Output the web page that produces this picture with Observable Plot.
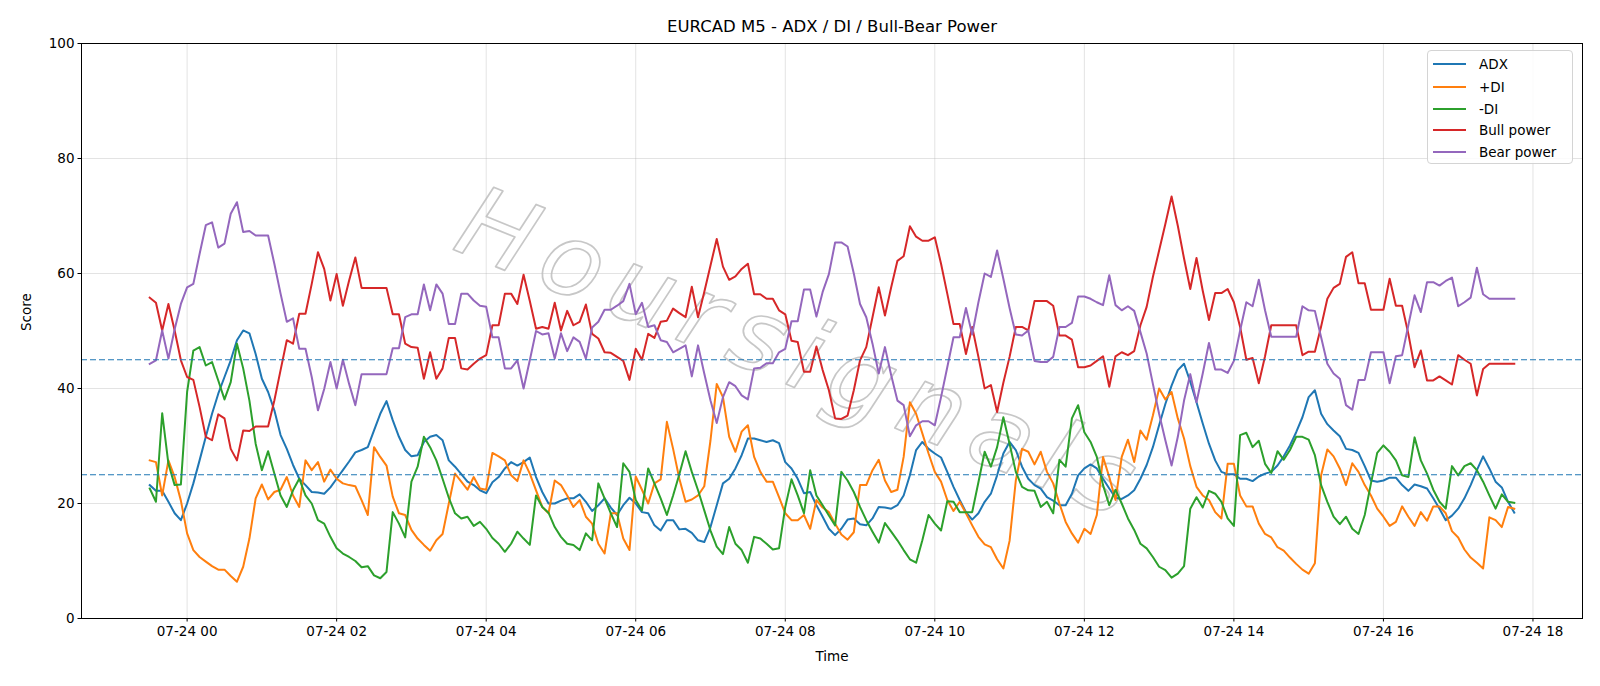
<!DOCTYPE html>
<html>
<head>
<meta charset="utf-8">
<script src="https://cdn.jsdelivr.net/npm/d3@7"></script>
<script src="https://cdn.jsdelivr.net/npm/@observablehq/plot@0.6"></script>
<style>
  html, body { margin: 0; padding: 0; background: #fff; }
  #wrap { position: relative; width: 1600px; height: 686px; font-family: "DejaVu Sans", sans-serif; }
  #legend { position: absolute; left: 1427px; top: 50px; width: 146px; height: 114px; box-sizing: border-box;
    border: 1px solid #d4d4d4; border-radius: 4px; background: rgba(255,255,255,0.85); }
  .lg { position: absolute; left: 0; height: 20px; display: flex; align-items: center; font-size: 13.5px; color: #000; }
  .lg span.sw { display: inline-block; width: 33px; height: 2px; margin-left: 5px; margin-right: 13px; }
</style>
</head>
<body>
<div id="wrap"><div id="chart"></div><div id="legend"></div></div>
<script>
// ---- data (5-minute bars starting 07-23 23:30) ----
const seriesNames = ["ADX", "+DI", "-DI", "Bull power", "Bear power"];
const seriesColors = ["#1f77b4", "#ff7f0e", "#2ca02c", "#d62728", "#9467bd"];

const adx = [23.2,22.2,22.2,20.3,18.3,17.1,20.0,23.5,27.5,31.6,35.6,39.1,42.0,44.9,48.4,50.1,49.6,46.0,41.7,39.4,36.2,31.9,29.5,26.7,24.3,23.2,22.0,21.9,
21.7,22.8,24.3,25.8,27.3,28.9,29.3,29.8,32.7,35.6,37.8,34.5,31.6,29.3,28.2,28.4,30.7,31.6,31.9,31.0,27.5,26.4,25.1,23.8,23.2,22.3,21.8,23.7,
24.6,26.1,27.2,26.6,27.2,28.0,24.6,22.0,20.0,20.0,20.5,20.9,20.9,21.6,20.3,18.7,19.7,20.9,19.3,18.0,19.7,21.0,20.0,18.5,18.3,16.2,15.3,17.1,
17.1,15.5,15.6,14.9,13.6,13.3,15.9,19.7,23.5,24.3,26.1,28.4,31.3,31.3,31.0,30.7,31.0,30.5,27.2,26.1,24.3,21.8,22.0,19.7,17.7,15.6,14.5,15.6,
17.2,17.4,16.4,16.2,17.4,19.4,19.3,19.1,19.7,21.4,24.9,29.3,30.7,29.5,28.7,28.0,25.5,22.9,20.6,18.5,17.2,18.3,20.3,21.7,24.9,28.7,30.7,29.3,
26.4,24.3,23.2,22.6,21.1,20.5,19.7,19.7,21.7,24.9,26.1,26.8,26.1,24.3,22.6,21.0,20.8,21.4,22.3,24.3,26.7,29.8,33.6,37.3,40.5,43.2,44.3,41.2,
37.6,33.9,30.4,27.5,25.5,25.1,25.1,24.3,24.3,23.9,24.7,25.2,25.5,26.6,28.2,30.1,32.4,35.0,38.5,39.7,35.6,33.8,32.7,31.7,29.5,29.3,28.8,26.5,
24.0,23.8,24.0,24.5,24.5,23.2,22.2,23.3,23.0,22.6,20.9,19.1,17.1,17.9,19.1,20.9,23.2,25.8,28.2,26.1,23.8,22.8,20.3,18.4];

const plusDI = [27.5,27.2,21.4,27.5,24.6,20.5,14.8,11.9,10.7,9.9,9.1,8.5,8.5,7.4,6.4,9.0,13.9,20.9,23.3,20.7,22.0,22.4,24.6,21.4,19.4,27.5,25.8,27.2,
23.8,25.9,24.3,23.5,23.2,23.0,20.6,18.0,29.8,28.1,26.6,21.2,18.3,18.0,15.4,13.9,12.8,11.8,13.6,14.7,20.0,25.2,23.8,22.4,24.6,22.6,22.4,28.8,
28.2,27.5,24.9,23.9,27.5,25.2,22.3,19.4,18.3,24.0,23.2,21.4,19.4,20.6,17.7,16.5,13.0,11.3,18.3,18.3,13.9,11.9,24.7,22.4,20.0,23.5,24.2,34.2,
29.5,24.3,20.3,20.7,21.4,23.0,31.0,40.8,38.5,31.6,29.0,32.5,33.6,28.1,25.5,23.8,23.8,21.1,18.3,17.1,17.1,18.0,15.6,20.6,19.3,18.5,16.5,14.6,
13.7,15.0,23.2,23.2,25.8,27.6,24.0,22.0,22.4,28.1,37.6,35.6,32.2,28.7,25.5,23.8,20.6,18.7,20.3,18.3,16.2,14.2,12.9,12.4,10.3,8.7,13.5,24.0,
29.5,29.0,26.8,29.0,25.5,23.5,20.0,16.8,14.8,13.2,15.6,14.7,18.0,28.1,24.6,20.6,28.1,31.1,27.2,32.7,31.1,35.3,40.0,38.1,39.4,34.8,31.3,26.5,
22.9,21.4,20.6,18.5,17.4,26.9,26.9,21.4,19.5,19.5,16.5,14.7,14.1,12.4,11.8,10.6,9.5,8.5,7.8,9.6,24.9,29.4,28.2,26.1,23.2,27.0,25.5,23.2,
21.4,19.1,17.7,16.1,16.8,19.5,17.7,16.1,18.5,17.0,19.5,19.5,18.3,15.2,14.1,12.0,10.6,9.7,8.7,17.6,17.1,15.9,19.4,19.1];

const minusDI = [22.6,20.3,35.7,26.9,23.2,23.3,39.4,46.6,47.2,44.0,44.6,41.4,38.1,41.1,47.8,43.5,37.9,30.4,25.8,29.1,25.2,21.4,19.4,22.3,24.3,21.4,20.0,17.1,
16.5,14.2,12.2,11.3,10.7,10.0,8.9,9.1,7.5,7.0,8.1,18.5,16.5,14.1,23.8,26.4,31.6,29.8,27.5,24.3,21.0,18.3,17.4,17.7,16.1,16.8,15.6,14.0,
13.0,11.6,13.0,15.1,13.9,12.8,21.4,19.4,18.4,15.9,14.2,13.0,12.8,11.9,14.8,13.6,23.5,20.9,18.3,15.9,27.0,25.5,20.6,18.8,26.1,23.5,20.9,18.0,
21.4,25.1,29.1,25.5,22.3,18.8,15.3,12.5,11.2,15.9,13.0,11.9,9.7,14.2,13.9,13.0,12.0,12.2,19.4,24.2,21.4,18.3,25.8,21.4,19.7,17.9,16.2,25.5,
24.0,22.0,19.4,17.1,15.1,13.2,16.6,15.1,13.6,11.9,10.3,9.7,13.6,18.0,16.5,15.3,20.4,20.3,18.5,18.5,18.5,23.7,29.0,26.4,29.8,35.0,30.4,25.5,
22.9,22.3,22.2,19.4,20.3,18.3,27.6,26.4,34.8,37.1,32.4,30.7,28.1,23.2,19.7,22.4,20.0,17.4,15.4,13.0,12.2,10.7,9.0,8.4,7.1,7.8,9.1,19.1,
21.1,19.3,22.2,21.7,20.3,17.4,16.1,31.9,32.3,29.8,30.9,26.9,25.3,29.1,27.6,29.3,31.6,31.6,31.1,28.4,23.2,20.3,17.7,16.4,17.7,15.6,14.7,18.0,
23.5,28.8,30.1,29.0,27.5,24.9,24.6,31.5,27.5,25.2,22.4,20.3,19.1,26.5,24.9,26.5,27.0,25.8,23.8,21.4,19.1,21.6,20.3,20.1];

const bullPower = [55.8,54.9,50.1,54.7,50.1,44.9,42.0,41.5,36.8,31.6,31.0,35.5,34.8,29.5,27.5,32.7,32.6,33.4,33.4,33.4,37.9,43.2,48.4,47.8,53.0,53.0,58.2,63.7,
60.8,55.3,59.9,54.4,58.8,62.8,57.5,57.5,57.5,57.5,57.5,52.9,52.9,47.8,47.2,47.1,41.7,46.3,41.7,43.5,48.8,48.8,43.5,43.3,44.3,45.2,45.8,51.0,
51.0,56.5,56.5,54.7,59.8,55.2,50.4,50.7,50.4,54.9,50.1,53.5,51.0,51.6,54.6,49.5,48.7,46.3,46.2,45.5,44.8,41.5,46.9,45.0,49.5,48.8,51.6,51.8,
53.9,53.1,52.4,57.7,52.4,56.8,61.4,66.0,61.2,58.9,59.5,60.8,61.7,56.4,56.4,55.6,55.6,53.6,52.9,48.3,48.1,42.9,42.9,47.3,43.2,39.7,34.8,34.7,
35.3,39.7,44.9,47.2,52.4,57.6,52.7,57.6,62.2,63.0,68.2,66.4,65.7,65.7,66.3,61.7,56.5,51.2,51.2,46.0,50.7,45.5,40.0,40.6,35.9,41.0,45.5,50.7,
50.7,50.1,55.2,55.2,55.2,54.4,49.2,49.2,48.5,43.7,43.7,44.0,44.8,45.6,40.3,45.6,46.3,45.8,46.5,51.0,54.2,59.4,64.0,68.6,73.4,68.3,62.6,57.3,
62.7,57.0,51.9,56.6,56.6,57.3,55.0,50.7,45.0,45.3,40.9,45.6,51.0,51.0,51.0,51.0,51.0,45.8,46.4,46.4,50.8,55.6,57.5,58.2,62.9,63.7,58.3,58.3,
53.7,53.7,53.7,59.1,54.4,54.4,49.5,43.7,46.6,41.4,41.4,42.1,41.4,40.7,45.8,45.0,44.3,38.8,43.4,44.3,44.3,44.3,44.3,44.3];

const bearPower = [44.3,44.9,50.1,45.2,50.3,54.7,57.6,58.2,63.4,68.4,68.9,64.5,65.2,70.4,72.4,67.2,67.4,66.6,66.6,66.6,61.7,56.5,51.6,52.2,46.9,46.9,42.0,36.2,
39.9,44.6,40.0,45.0,40.8,37.1,42.5,42.5,42.5,42.5,42.5,47.0,47.0,52.4,52.9,52.9,58.1,53.6,58.1,56.5,51.2,51.2,56.5,56.5,55.3,54.4,54.2,48.9,
48.9,43.5,43.5,44.9,40.0,44.9,50.0,49.4,49.6,45.2,49.6,46.5,48.9,48.1,45.2,50.6,51.6,53.7,53.7,54.4,55.2,58.2,52.9,54.9,50.7,51.0,48.4,48.1,
46.3,46.9,47.5,42.1,47.5,42.6,37.9,34.0,38.5,41.1,40.4,38.8,38.1,43.5,43.6,44.4,44.4,46.3,46.9,51.7,51.7,57.2,57.2,52.5,56.8,59.9,65.4,65.4,
64.7,60.0,54.7,52.4,47.8,42.6,47.2,42.3,37.9,37.1,31.7,33.6,34.3,34.3,33.6,38.5,43.7,48.9,48.9,54.0,49.4,55.0,60.0,59.4,64.0,59.1,54.0,49.4,
49.2,50.1,44.8,44.6,44.6,45.5,50.7,50.7,51.4,56.0,56.0,55.6,55.0,54.5,59.7,54.5,53.6,54.3,53.5,49.8,46.1,40.8,35.6,31.0,26.6,31.6,37.9,42.5,
37.6,42.6,47.9,43.3,43.3,42.7,44.8,50.1,55.0,54.3,58.9,53.6,49.0,49.0,49.0,49.0,49.0,54.3,53.6,53.5,48.9,44.3,42.6,41.7,37.1,36.3,41.5,41.5,
46.3,46.3,46.3,40.9,45.6,45.8,51.0,56.2,53.3,58.5,58.5,57.9,58.7,59.3,54.3,55.0,55.8,61.0,56.4,55.6,55.6,55.6,55.6,55.6];

const thresholds = [45, 25];
const yTicks = [0, 20, 40, 60, 80, 100];
const xTickHours = [0, 2, 4, 6, 8, 10, 12, 14, 16, 18];
const titleText = "EURCAD M5 - ADX / DI / Bull-Bear Power";
const xLabel = "Time";
const yLabel = "Score";
const watermarkText = "Hoursignals";

// ---- build table ----
const startMs = Date.UTC(2024, 6, 23, 23, 30);
const stepMs = 5 * 60 * 1000;
const allSeries = [adx, plusDI, minusDI, bullPower, bearPower];
const rows = [];
allSeries.forEach((vals, k) => vals.forEach((v, i) => rows.push({series: seriesNames[k], t: new Date(startMs + i * stepMs), v})));
const n = adx.length;
const endMs = startMs + (n - 1) * stepMs;
const pad = 0.05 * (endMs - startMs);
const xTicks = xTickHours.map(h => new Date(Date.UTC(2024, 6, 24, h)));

const chart = Plot.plot({
  width: 1600,
  height: 686,
  marginLeft: 81,
  marginRight: 18,
  marginTop: 43,
  marginBottom: 68,
  style: {fontFamily: "DejaVu Sans, sans-serif", fontSize: "13.5px", color: "#000", background: "#fff", overflow: "visible"},
  x: {type: "utc", domain: [new Date(startMs - pad), new Date(endMs + pad)]},
  y: {domain: [0, 100]},
  color: {domain: seriesNames, range: seriesColors},
  marks: [
    Plot.gridX(xTicks, {stroke: "#b0b0b0", strokeOpacity: 0.35, strokeWidth: 1}),
    Plot.gridY(yTicks, {stroke: "#b0b0b0", strokeOpacity: 0.35, strokeWidth: 1}),
    Plot.text([watermarkText], {frameAnchor: "middle", dx: -30, dy: 25, rotate: 22, fontSize: 100, fontStyle: "italic",
      fontFamily: "DejaVu Sans", fill: "none", stroke: "#bdbdbd", strokeWidth: 1.7, strokeOpacity: 0.85}),
    Plot.line(rows, {x: "t", y: "v", z: "series", stroke: "series", strokeWidth: 2, strokeLinejoin: "round", strokeLinecap: "square"}),
    Plot.ruleY(thresholds, {stroke: "#1f77b4", strokeWidth: 1.2, strokeDasharray: "6,3"}),
    Plot.frame({stroke: "#000", strokeWidth: 1}),
    Plot.axisX({ticks: xTicks, tickFormat: d3.utcFormat("%m-%d %H"), tickSize: 3.5, tickPadding: 4, label: null, fontSize: 13.5}),
    Plot.axisY({ticks: yTicks, tickSize: 3.5, tickPadding: 3.5, label: null, fontSize: 13.5}),
    Plot.text([titleText], {frameAnchor: "top", dy: -17, lineAnchor: "middle", fontSize: 16.5, fill: "#000"}),
    Plot.text([xLabel], {frameAnchor: "bottom", dy: 38, lineAnchor: "middle", fontSize: 13.5, fill: "#000"}),
    Plot.text([yLabel], {frameAnchor: "left", dx: -55, rotate: -90, lineAnchor: "middle", fontSize: 13.5, fill: "#000"})
  ]
});
// widen the watermark's letter spacing
d3.select(chart).selectAll("text").filter(function () { return this.textContent === watermarkText; })
  .style("letter-spacing", "13px");
document.getElementById("chart").appendChild(chart);

// ---- legend ----
const legend = document.getElementById("legend");
const rowTops = [3, 25.5, 48, 69, 91];
seriesNames.forEach((name, k) => {
  const d = document.createElement("div");
  d.className = "lg";
  d.style.top = rowTops[k] + "px";
  d.innerHTML = `<span class="sw" style="background:${seriesColors[k]}"></span><span>${name}</span>`;
  legend.appendChild(d);
});
</script>
</body>
</html>
